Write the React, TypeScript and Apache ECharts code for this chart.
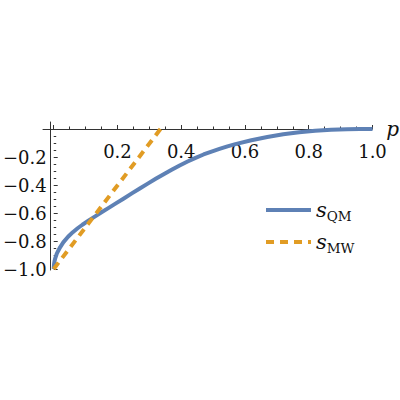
import React, { useEffect, useRef } from "react";
import * as echarts from "echarts";

// s_QM curve (p, s)
const P_QM = [0, 0.001, 0.0025, 0.005, 0.01, 0.02, 0.03, 0.045, 0.06, 0.075, 0.09, 0.11, 0.13, 0.15, 0.17, 0.195, 0.22, 0.245, 0.27, 0.295, 0.32, 0.345, 0.37, 0.395, 0.42, 0.445, 0.47, 0.495, 0.52, 0.545, 0.57, 0.62, 0.67, 0.72, 0.77, 0.82, 0.87, 0.92, 0.96, 1.0];
const S_QM = [-1, -0.966, -0.945, -0.922, -0.888, -0.845, -0.81, -0.77, -0.737, -0.709, -0.684, -0.653, -0.624, -0.595, -0.567, -0.531, -0.496, -0.46, -0.425, -0.39, -0.356, -0.323, -0.291, -0.2605, -0.232, -0.206, -0.182, -0.161, -0.142, -0.124, -0.108, -0.08, -0.057, -0.038, -0.024, -0.013, -0.006, -0.0018, -0.0004, 0];
// s_MW straight line
const P_MW = [0, 0.335];
const S_MW = [-1, 0];

const X_TICK_LABELS = ["0.2", "0.4", "0.6", "0.8", "1.0"];
const Y_TICK_LABELS = ["\u22120.2", "\u22120.4", "\u22120.6", "\u22120.8", "\u22121.0"];
const SERIES_NAMES = ["sQM", "sMW"];
const SUBSCRIPTS = ["QM", "MW"];

const FONT = "DejaVu Serif";
const AXIS_COLOR = "#333";
const BLUE = "#5E81B5";
const ORANGE = "#E19C24";

export default function App() {
  const ref = useRef<HTMLDivElement>(null);
  useEffect(() => {
    if (!ref.current) return;
    const chart = echarts.init(ref.current, undefined, { renderer: "svg" });
    const xLabel = (v: number) => {
      const i = Math.round(v / 0.2) - 1;
      return i >= 0 && i < X_TICK_LABELS.length ? X_TICK_LABELS[i] : "";
    };
    const yLabel = (v: number) => {
      const i = Math.round(-v / 0.2) - 1;
      return i >= 0 && i < Y_TICK_LABELS.length ? Y_TICK_LABELS[i] : "";
    };
    const labelStyle = {
      fontFamily: FONT,
      fontSize: 18,
      color: "#111",
    };
    chart.setOption({
      animation: false,
      backgroundColor: "#fff",
      textStyle: { fontFamily: FONT },
      grid: [
        { left: 50, top: 129, width: 322.5, height: 140 },
        { left: 43, top: 122, width: 335.3, height: 148 },
      ],
      xAxis: [
        {
          type: "value",
          gridIndex: 0,
          position: "top",
          min: 0,
          max: 1,
          interval: 0.2,
          axisLine: { show: false },
          axisTick: { show: true, inside: false, length: 4, lineStyle: { color: AXIS_COLOR } },
          minorTick: { show: true, splitNumber: 4, length: 2.5, lineStyle: { color: AXIS_COLOR } },
          splitLine: { show: false },
          axisLabel: {
            inside: true,
            margin: 13,
            formatter: xLabel,
            ...labelStyle,
          },
        },
        {
          type: "value",
          gridIndex: 1,
          min: -0.0217,
          max: 1.018,
          axisLine: { show: true, onZero: true, lineStyle: { color: AXIS_COLOR, width: 1 } },
          axisTick: { show: false },
          axisLabel: { show: false },
          splitLine: { show: false },
          name: "p",
          nameLocation: "end",
          nameGap: 14,
          nameTextStyle: { fontFamily: FONT, fontStyle: "italic", fontSize: 20, color: "#111" },
        },
      ],
      yAxis: [
        {
          type: "value",
          gridIndex: 0,
          min: -1,
          max: 0,
          interval: 0.2,
          axisLine: { show: false },
          axisTick: { show: true, inside: true, length: 4, lineStyle: { color: AXIS_COLOR } },
          minorTick: { show: true, splitNumber: 4, length: 2.5, lineStyle: { color: AXIS_COLOR } },
          splitLine: { show: false },
          axisLabel: {
            margin: 7,
            formatter: yLabel,
            ...labelStyle,
          },
        },
        {
          type: "value",
          gridIndex: 1,
          min: -1.007,
          max: 0.05,
          axisLine: { show: true, onZero: true, lineStyle: { color: AXIS_COLOR, width: 1 } },
          axisTick: { show: false },
          axisLabel: { show: false },
          splitLine: { show: false },
        },
      ],
      legend: {
        orient: "vertical",
        left: 264,
        top: 197,
        padding: 0,
        itemWidth: 45,
        itemHeight: 14,
        itemGap: 6,
        itemStyle: { opacity: 0 },
        lineStyle: { width: 4 },
        data: SERIES_NAMES,
        formatter: (name: string) => `{s|s}{sub|${SUBSCRIPTS[SERIES_NAMES.indexOf(name)]}}`,
        textStyle: {
          rich: {
            s: { fontFamily: FONT, fontStyle: "italic", fontSize: 21, lineHeight: 20, color: "#111" },
            sub: { fontFamily: FONT, fontSize: 13.5, lineHeight: 13, padding: [12, 0, 0, 0], color: "#111" },
          },
        },
      },
      series: [
        {
          name: SERIES_NAMES[0],
          type: "line",
          xAxisIndex: 0,
          yAxisIndex: 0,
          data: P_QM.map((p, i) => [p, S_QM[i]]),
          smooth: false,
          symbol: "none",
          clip: false,
          lineStyle: { color: BLUE, width: 4, join: "round" },
          itemStyle: { color: BLUE },
        },
        {
          name: SERIES_NAMES[1],
          type: "line",
          xAxisIndex: 0,
          yAxisIndex: 0,
          data: P_MW.map((p, i) => [p, S_MW[i]]),
          symbol: "none",
          clip: false,
          lineStyle: { color: ORANGE, width: 4, type: [8, 6] },
          itemStyle: { color: ORANGE },
        },
      ],
    });
    return () => chart.dispose();
  }, []);
  return (
    <div
      ref={ref}
      style={{ position: "fixed", left: 0, top: 0, width: 400, height: 400, background: "#fff" }}
    />
  );
}
